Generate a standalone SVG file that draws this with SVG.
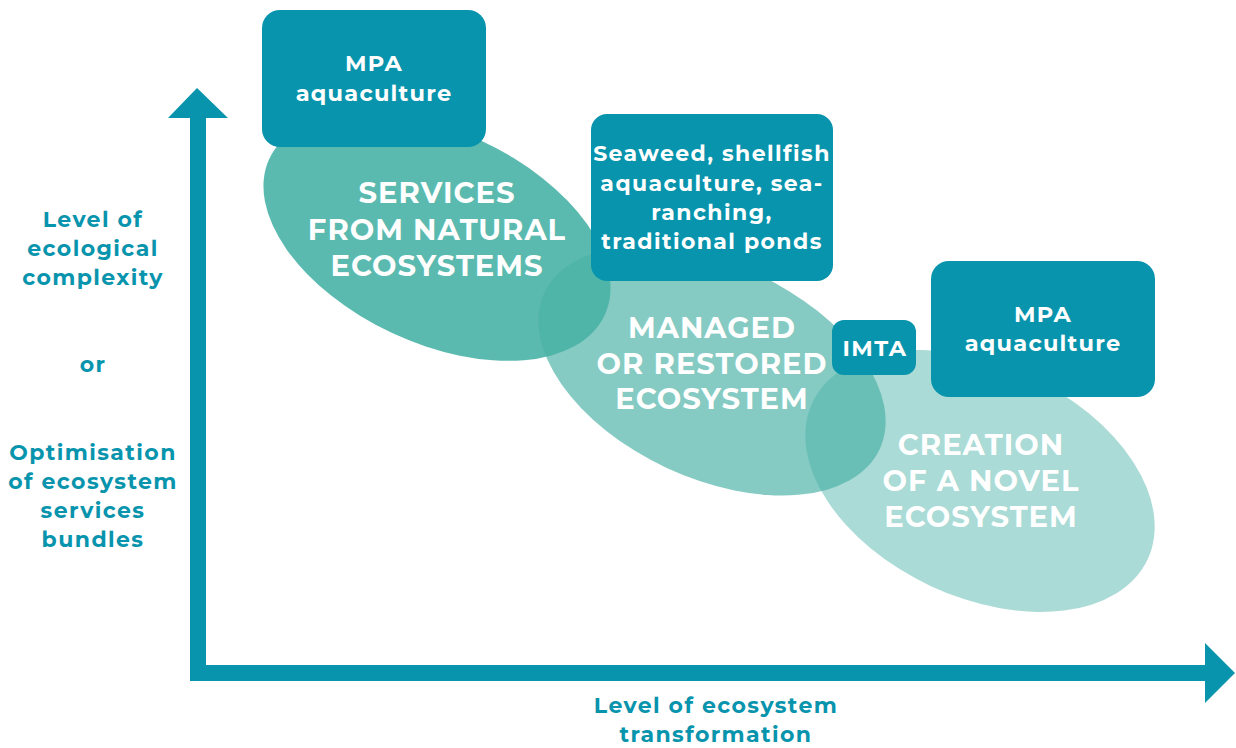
<svg xmlns="http://www.w3.org/2000/svg" width="1236" height="748" viewBox="0 0 1236 748">
<style>
.box{fill:#0894ad}
.bt{font-family:"Montserrat","Open Sans","Liberation Sans",sans-serif;font-weight:700;fill:#fff;text-anchor:middle}
.et{font-family:"Montserrat","Open Sans","Liberation Sans",sans-serif;font-weight:700;fill:#fff;text-anchor:middle;font-size:29px;letter-spacing:1px}
.ax{font-family:"Montserrat","Open Sans","Liberation Sans",sans-serif;font-weight:700;fill:#0894ad;text-anchor:middle;font-size:22px;letter-spacing:1.4px}
.ell{fill:#4bb3a7}
</style>
<rect width="1236" height="748" fill="#fff"/>
<g id="axes">
<path d="M190,118 L168,118 L197,88 L228,118 L206,118 L206,665 L1205,665 L1205,643 L1235,673 L1205,703 L1205,681 L190,681 Z" fill="#0894ad"/>
</g>
<g id="ellipse-services">
<ellipse class="ell" cx="437" cy="237" rx="185" ry="106" transform="rotate(25 437 237)" fill-opacity="0.91"/>
</g>
<g id="ellipse-managed">
<ellipse class="ell" cx="712" cy="371" rx="185" ry="107" transform="rotate(25 712 371)" fill-opacity="0.68"/>
</g>
<g id="ellipse-creation">
<ellipse class="ell" cx="980" cy="481" rx="185" ry="116" transform="rotate(25 980 481)" fill-opacity="0.47"/>
</g>
<g id="label-services">
<text class="et" x="437" y="203">SERVICES</text>
<text class="et" x="437" y="240">FROM NATURAL</text>
<text class="et" x="437" y="276">ECOSYSTEMS</text>
</g>
<g id="label-managed">
<text class="et" x="712" y="338">MANAGED</text>
<text class="et" x="712" y="374">OR RESTORED</text>
<text class="et" x="712" y="409">ECOSYSTEM</text>
</g>
<g id="label-creation">
<text class="et" x="981" y="455">CREATION</text>
<text class="et" x="981" y="491">OF A NOVEL</text>
<text class="et" x="981" y="527">ECOSYSTEM</text>
</g>
<g id="box-mpa1">
<rect class="box" x="262" y="10" width="224" height="137" rx="18"/>
<text class="bt" font-size="22.5" letter-spacing="1.2" x="374" y="71">MPA</text>
<text class="bt" font-size="22.5" letter-spacing="1.2" x="374" y="101">aquaculture</text>
</g>
<g id="box-seaweed">
<rect class="box" x="591" y="114" width="242" height="167" rx="16"/>
<text class="bt" font-size="22" letter-spacing="1.4" x="712" y="161">Seaweed, shellfish</text>
<text class="bt" font-size="22" letter-spacing="1.4" x="712" y="191">aquaculture, sea-</text>
<text class="bt" font-size="22" letter-spacing="1.4" x="712" y="220">ranching,</text>
<text class="bt" font-size="22" letter-spacing="1.4" x="712" y="249">traditional ponds</text>
</g>
<g id="box-imta">
<rect class="box" x="832" y="320" width="84" height="55" rx="12"/>
<text class="bt" font-size="22.5" letter-spacing="1.5" x="875" y="356">IMTA</text>
</g>
<g id="box-mpa2">
<rect class="box" x="931" y="261" width="224" height="136" rx="18"/>
<text class="bt" font-size="22.5" letter-spacing="1.2" x="1043" y="322">MPA</text>
<text class="bt" font-size="22.5" letter-spacing="1.2" x="1043" y="351">aquaculture</text>
</g>
<g id="label-y">
<text class="ax" x="93" y="227">Level of</text>
<text class="ax" x="93" y="256">ecological</text>
<text class="ax" x="93" y="285">complexity</text>
<text class="ax" x="93" y="372">or</text>
<text class="ax" x="93" y="460">Optimisation</text>
<text class="ax" x="93" y="489">of ecosystem</text>
<text class="ax" x="93" y="518">services</text>
<text class="ax" x="93" y="547">bundles</text>
</g>
<g id="label-x">
<text class="ax" x="716" y="713">Level of ecosystem</text>
<text class="ax" x="716" y="742">transformation</text>
</g>
</svg>
